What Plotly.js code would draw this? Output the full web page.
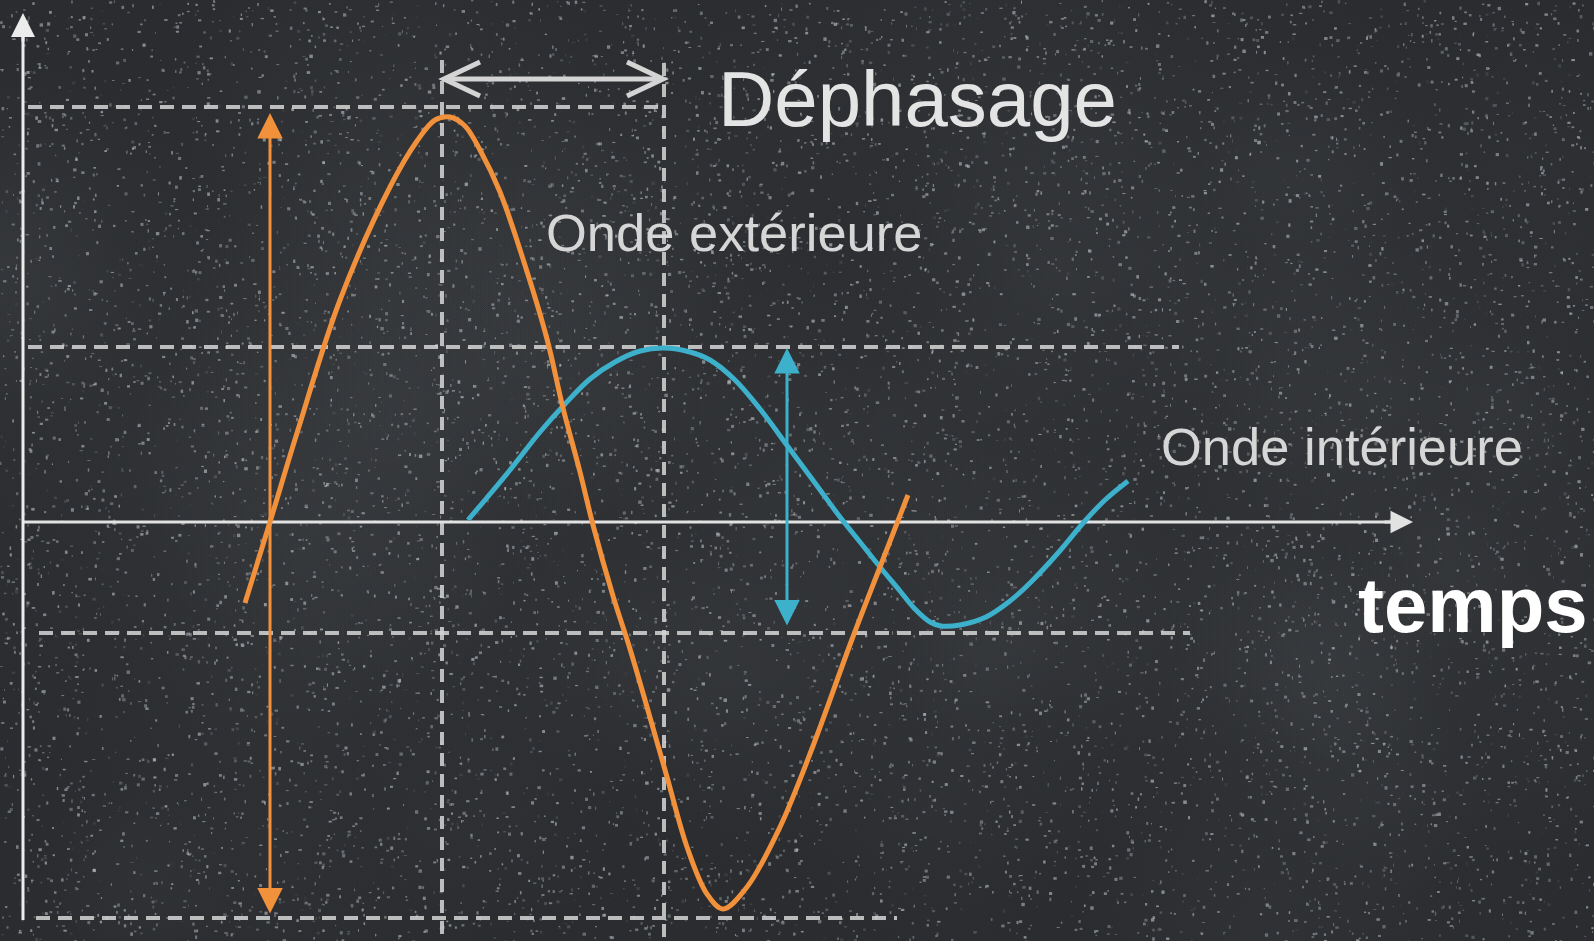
<!DOCTYPE html>
<html>
<head>
<meta charset="utf-8">
<script src="https://cdn.plot.ly/plotly-3.0.1.min.js"></script>
<style>
  html, body { margin: 0; padding: 0; background: #2b2d30; overflow: hidden; }
  #bg { position: absolute; left: 0; top: 0; }
  #chart { position: absolute; left: 0; top: 0; width: 1594px; height: 941px; }
</style>
</head>
<body>
<canvas id="bg" width="1594" height="941"></canvas>
<div id="chart"></div>
<script>
// ---- Data (time, amplitude; time axis at amplitude 0) ----
const orangeT = [245, 270, 297, 340, 390, 417, 435, 450, 465, 480, 500, 523, 547, 563, 580, 593, 613, 630, 647, 667, 687, 707, 723, 747, 780, 813, 851, 880, 908];
const orangeA = [-81, 0, 89, 222, 335, 381, 402, 405, 396, 372, 330, 263, 183, 114, 50, -3, -74, -127, -185, -255, -325, -372, -387, -365, -305, -224, -120, -45, 27];

const blueT = [468, 510, 540, 565, 590, 615, 640, 664, 690, 710, 735, 760, 789, 815, 840, 860, 880, 900, 914, 930, 941, 960, 986, 1010, 1030, 1058, 1084, 1105, 1128];
const blueA = [2, 52, 90, 118, 143, 160, 171, 174, 170, 162, 142, 113, 74, 39, 5, -20, -45, -69, -86, -100, -104, -103, -95, -79, -61, -31, 0, 22, 41];

// guide levels (amplitude) and guide times
const guideLevels = [415, 175, -111, -396];
const guideLevelStart = [28, 28, 39, 36];
const guideLevelEnd = [664, 1179, 1190, 897];
const guideTimes = [442, 664];
const guideTimeTop = [462, 459];

// amplitude arrows: [time, from, to]
const orangeAmpArrow = [270, -393, 409];
const blueAmpArrow = [787, -105, 174];
// phase shift arrow: [level, from time, to time]
const phaseArrow = [443, 444, 663];

// axes extents
const timeAxis = [23, 1413];
const ampAxis = [-398, 509];

// labels
const labels = [
  { text: 'Déphasage', t: 716, a: 423, size: 78, color: '#e4e4e4', bold: false },
  { text: 'Onde extérieure', t: 544, a: 290, size: 52.5, color: '#d6d6d6', bold: false },
  { text: 'Onde intérieure', t: 1159, a: 76, size: 52.5, color: '#d6d6d6', bold: false },
  { text: 'temps', t: 1356, a: -83, size: 78, color: '#ffffff', bold: true }
];

// ---- chalkboard texture (deterministic, drawn once) ----
(function () {
  const c = document.getElementById('bg');
  const g = c.getContext('2d');
  g.fillStyle = '#2a2c2f';
  g.fillRect(0, 0, c.width, c.height);
  let s = 12345;
  const rnd = () => { s = (s * 1103515245 + 12345) % 2147483648; return s / 2147483648; };
  for (let i = 0; i < 50; i++) {
    const x = rnd() * c.width, y = rnd() * c.height, r = 80 + rnd() * 220;
    const grd = g.createRadialGradient(x, y, 0, x, y, r);
    grd.addColorStop(0, 'rgba(120,125,130,0.05)');
    grd.addColorStop(1, 'rgba(120,125,130,0)');
    g.fillStyle = grd;
    g.fillRect(x - r, y - r, 2 * r, 2 * r);
  }
  const off = document.createElement('canvas');
  off.width = c.width; off.height = c.height;
  const o = off.getContext('2d');
  o.fillStyle = 'rgb(190,195,200)';
  for (let i = 0; i < 60000; i++) {
    const x = rnd() * c.width, y = rnd() * c.height;
    o.globalAlpha = 0.04 + rnd() * 0.12;
    o.fillRect(x, y, 1 + rnd() * 2.5, 1 + rnd() * 2.5);
  }
  o.globalAlpha = 1;
  try { g.filter = 'blur(0.6px)'; } catch (e) {}
  g.drawImage(off, 0, 0);
  try { g.filter = 'none'; } catch (e) {}
})();

// ---- build plot ----
const ORANGE = '#f2913c';
const BLUE = '#3db0cc';
const GUIDE = 'rgba(214,214,214,0.85)';

const traces = [
  { x: blueT, y: blueA, mode: 'lines', line: { color: BLUE, width: 5, shape: 'spline', smoothing: 1 }, hoverinfo: 'skip', showlegend: false },
  { x: orangeT, y: orangeA, mode: 'lines', line: { color: ORANGE, width: 5, shape: 'spline', smoothing: 1 }, hoverinfo: 'skip', showlegend: false }
];

const shapes = [];
guideLevels.forEach((lv, i) => {
  shapes.push({ type: 'line', xref: 'x', yref: 'y', x0: guideLevelStart[i], x1: guideLevelEnd[i], y0: lv, y1: lv,
    line: { color: GUIDE, width: 4, dash: '14px,8px' }, layer: 'below' });
});
guideTimes.forEach((tm, i) => {
  shapes.push({ type: 'line', xref: 'x', yref: 'y', x0: tm, x1: tm, y0: guideTimeTop[i], y1: -419,
    line: { color: GUIDE, width: 4, dash: '13px,8px' }, layer: 'below' });
});
// axes lines
shapes.push({ type: 'line', xref: 'x', yref: 'y', x0: timeAxis[0], x1: timeAxis[1] - 18, y0: 0, y1: 0,
  line: { color: '#e2e2e2', width: 3 }, layer: 'below' });
shapes.push({ type: 'line', xref: 'x', yref: 'y', x0: timeAxis[0], x1: timeAxis[0], y0: ampAxis[0], y1: ampAxis[1] - 20,
  line: { color: '#ececec', width: 3 }, layer: 'below' });
// phase arrow: shaft + open chevrons
const [pl, p0, p1] = phaseArrow;
shapes.push({ type: 'line', xref: 'x', yref: 'y', x0: p0 + 2, x1: p1 - 2, y0: pl, y1: pl,
  line: { color: '#d4d4d4', width: 5 } });
shapes.push({ type: 'path', xref: 'x', yref: 'y',
  path: `M ${p0 + 36},${pl + 17} L ${p0},${pl} L ${p0 + 36},${pl - 17}`,
  line: { color: '#d4d4d4', width: 5 } });
shapes.push({ type: 'path', xref: 'x', yref: 'y',
  path: `M ${p1 - 36},${pl + 17} L ${p1},${pl} L ${p1 - 36},${pl - 17}`,
  line: { color: '#d4d4d4', width: 5 } });

const annotations = [];
// axis arrowheads
annotations.push({ x: timeAxis[1], y: 0, ax: timeAxis[1] - 30, ay: 0, axref: 'x', ayref: 'y', xref: 'x', yref: 'y',
  text: '', showarrow: true, arrowhead: 2, arrowsize: 1.5, arrowwidth: 3, arrowcolor: '#e2e2e2', standoff: 0, startstandoff: 0 });
annotations.push({ x: timeAxis[0], y: ampAxis[1], ax: timeAxis[0], ay: ampAxis[1] - 30, axref: 'x', ayref: 'y', xref: 'x', yref: 'y',
  text: '', showarrow: true, arrowhead: 2, arrowsize: 1.6, arrowwidth: 3, arrowcolor: '#ececec', standoff: 0, startstandoff: 0 });
// amplitude arrows
annotations.push({ x: orangeAmpArrow[0], y: orangeAmpArrow[2], ax: orangeAmpArrow[0], ay: orangeAmpArrow[1],
  axref: 'x', ayref: 'y', xref: 'x', yref: 'y', text: '', showarrow: true, arrowside: 'end+start',
  arrowhead: 2, startarrowhead: 2, arrowsize: 1.7, startarrowsize: 1.7, arrowwidth: 3, arrowcolor: ORANGE, standoff: 0, startstandoff: 0 });
annotations.push({ x: blueAmpArrow[0], y: blueAmpArrow[2], ax: blueAmpArrow[0], ay: blueAmpArrow[1],
  axref: 'x', ayref: 'y', xref: 'x', yref: 'y', text: '', showarrow: true, arrowside: 'end+start',
  arrowhead: 2, startarrowhead: 2, arrowsize: 1.7, startarrowsize: 1.7, arrowwidth: 3, arrowcolor: BLUE, standoff: 0, startstandoff: 0 });
// text labels
labels.forEach(l => {
  annotations.push({ x: l.t, y: l.a, xref: 'x', yref: 'y', xanchor: 'left', yanchor: 'middle',
    text: l.bold ? '<b>' + l.text + '</b>' : l.text, showarrow: false,
    font: { family: 'Liberation Sans, Arial, Helvetica, sans-serif', size: l.size, color: l.color } });
});

const layout = {
  width: 1594, height: 941,
  margin: { l: 0, r: 0, t: 0, b: 0, pad: 0 },
  paper_bgcolor: 'rgba(0,0,0,0)', plot_bgcolor: 'rgba(0,0,0,0)',
  xaxis: { range: [0, 1594], visible: false, fixedrange: true },
  yaxis: { range: [-419, 522], visible: false, fixedrange: true },
  shapes: shapes, annotations: annotations, showlegend: false
};

Plotly.newPlot('chart', traces, layout, { staticPlot: true, displayModeBar: false });
</script>
</body>
</html>
